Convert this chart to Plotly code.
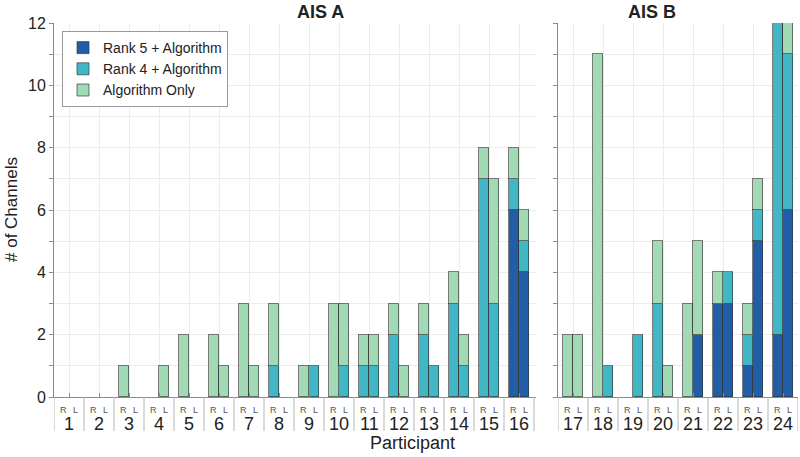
import plotly.graph_objects as go

# ---------------- data ----------------
participants_A = [1, 2, 3, 4, 5, 6, 7, 8, 9, 10, 11, 12, 13, 14, 15, 16]
participants_B = [17, 18, 19, 20, 21, 22, 23, 24]

# Right (R) and left (L) hemisphere channels per participant
rank5_R_A = [0, 0, 0, 0, 0, 0, 0, 0, 0, 0, 0, 0, 0, 0, 0, 6]
rank4_R_A = [0, 0, 0, 0, 0, 0, 0, 1, 0, 0, 1, 2, 2, 3, 7, 1]
alg_R_A   = [0, 0, 1, 0, 2, 2, 3, 2, 1, 3, 1, 1, 1, 1, 1, 1]
rank5_L_A = [0, 0, 0, 0, 0, 0, 0, 0, 0, 0, 0, 0, 0, 0, 0, 4]
rank4_L_A = [0, 0, 0, 0, 0, 0, 0, 0, 1, 1, 1, 0, 1, 1, 3, 1]
alg_L_A   = [0, 0, 0, 1, 0, 1, 1, 0, 0, 2, 1, 1, 0, 1, 4, 1]

rank5_R_B = [0, 0, 0, 0, 0, 3, 1, 2]
rank4_R_B = [0, 0, 0, 3, 0, 0, 1, 10]
alg_R_B   = [2, 11, 0, 2, 3, 1, 1, 0]
rank5_L_B = [0, 0, 0, 0, 2, 3, 5, 6]
rank4_L_B = [0, 1, 2, 0, 0, 1, 1, 5]
alg_L_B   = [2, 0, 0, 1, 3, 0, 1, 1]

series_names = ["Rank 5 + Algorithm", "Rank 4 + Algorithm", "Algorithm Only"]
panel_titles = ["AIS A", "AIS B"]
side_labels = ["R", "L"]
y_tickvals = [0, 1, 2, 3, 4, 5, 6, 7, 8, 9, 10, 11, 12]
y_ticktext = ["0", "", "2", "", "4", "", "6", "", "8", "", "10", "", "12"]

# ---------------- style ----------------
colors = ["#225ea8", "#41b6c4", "#a1dab4"]
FONT = "Liberation Sans, Arial, Helvetica, sans-serif"
OFF = 1 / 6
BW = 1 / 3

fig = go.Figure()

def nz(v):
    return [x if x != 0 else None for x in v]

panels = [
    (participants_A, [(rank5_R_A, rank5_L_A), (rank4_R_A, rank4_L_A), (alg_R_A, alg_L_A)], "x", "y", True),
    (participants_B, [(rank5_R_B, rank5_L_B), (rank4_R_B, rank4_L_B), (alg_R_B, alg_L_B)], "x2", "y2", False),
]

for parts, series, xa, ya, show in panels:
    xs = [p - OFF for p in parts] + [p + OFF for p in parts]
    for k, (r, l) in enumerate(series):
        fig.add_trace(go.Bar(
            x=xs, y=nz(r + l), width=BW, name=series_names[k],
            marker=dict(color=colors[k], line=dict(color="rgba(50,50,50,0.65)", width=1)),
            xaxis=xa, yaxis=ya, showlegend=show, legendgroup=series_names[k],
            hoverinfo="skip",
        ))

L, R, T, B = 54, 2, 23, 60
W, H = 800, 457
pw = W - L - R
ph = H - T - B
def px2x(p):
    return (p - L) / pw
def py2y(p):
    return (H - B - p) / ph

dA = [0, px2x(535.5)]
dB = [px2x(558), 1]

axis_common = dict(
    showgrid=True, gridcolor="#ececec", gridwidth=1,
    showline=True, linecolor="#8a8a8a", linewidth=1,
    ticks="inside", ticklen=4, tickcolor="#8a8a8a",
    showticklabels=False, zeroline=False,
)

fig.update_layout(
    width=W, height=H,
    margin=dict(l=L, r=R, t=T, b=B),
    paper_bgcolor="white", plot_bgcolor="white",
    barmode="stack", bargap=0,
    font=dict(family=FONT, color="#222"),
    xaxis=dict(domain=dA, range=[0.5, 16.55], tickvals=participants_A, **axis_common),
    xaxis2=dict(domain=dB, range=[16.5, 24.5], tickvals=participants_B, anchor="y2", **axis_common),
    yaxis=dict(range=[0, 12], tickvals=y_tickvals, ticktext=y_ticktext,
               showgrid=True, gridcolor="#ececec", showline=True, linecolor="#8a8a8a",
               ticks="outside", ticklen=4, tickcolor="#8a8a8a", zeroline=False,
               tickfont=dict(size=16, color="#222"), anchor="x"),
    yaxis2=dict(range=[0, 12], tickvals=y_tickvals, showticklabels=False,
                showgrid=True, gridcolor="#ececec", showline=True, linecolor="#8a8a8a",
                ticks="outside", ticklen=4, tickcolor="#8a8a8a", zeroline=False,
                anchor="x2", matches="y"),
    legend=dict(x=px2x(62), y=py2y(31), xanchor="left", yanchor="top",
                bgcolor="white", bordercolor="#9a9a9a", borderwidth=1,
                font=dict(size=14, color="#222"), traceorder="normal",
                itemwidth=30, tracegroupgap=0),
)

ann = []
shapes = []
# titles
ann.append(dict(text="<b>%s</b>" % panel_titles[0], x=(dA[0] + dA[1]) / 2, y=py2y(12),
                xref="paper", yref="paper", showarrow=False, font=dict(size=18, color="#222"),
                yanchor="middle"))
ann.append(dict(text="<b>%s</b>" % panel_titles[1], x=(dB[0] + dB[1]) / 2, y=py2y(12),
                xref="paper", yref="paper", showarrow=False, font=dict(size=18, color="#222"),
                yanchor="middle"))
# category labels below axis
for parts, xr in ((participants_A, "x"), (participants_B, "x2")):
    shapes.append(dict(type="line", xref=xr, yref="paper", x0=parts[0] - 0.5, x1=parts[0] - 0.5,
                       y0=0, y1=py2y(431), line=dict(color="#b5b5b5", width=1)))
    for p in parts:
        for s, dx in zip(side_labels, (-0.2, 0.2)):
            ann.append(dict(text=s, x=p + dx, y=py2y(410), xref=xr, yref="paper",
                            showarrow=False, font=dict(size=9, color="#555"), yanchor="middle"))
        ann.append(dict(text=str(p), x=p, y=py2y(424), xref=xr, yref="paper",
                        showarrow=False, font=dict(size=18, color="#222"), yanchor="middle"))
        shapes.append(dict(type="line", xref=xr, yref="paper", x0=p + 0.5, x1=p + 0.5,
                           y0=0, y1=py2y(431), line=dict(color="#b5b5b5", width=1)))
# axis titles
ann.append(dict(text="Participant", x=px2x(412), y=py2y(443), xref="paper", yref="paper",
                showarrow=False, font=dict(size=18, color="#222"), yanchor="middle"))
ann.append(dict(text="# of Channels", x=px2x(11), y=py2y(210), xref="paper", yref="paper",
                showarrow=False, textangle=-90, font=dict(size=17, color="#222"),
                xanchor="center", yanchor="middle"))

fig.update_layout(annotations=ann, shapes=shapes)
fig.write_html("out.html", config={"displayModeBar": False},
               post_script="document.body.style.margin='0';document.body.style.overflow='hidden';")
